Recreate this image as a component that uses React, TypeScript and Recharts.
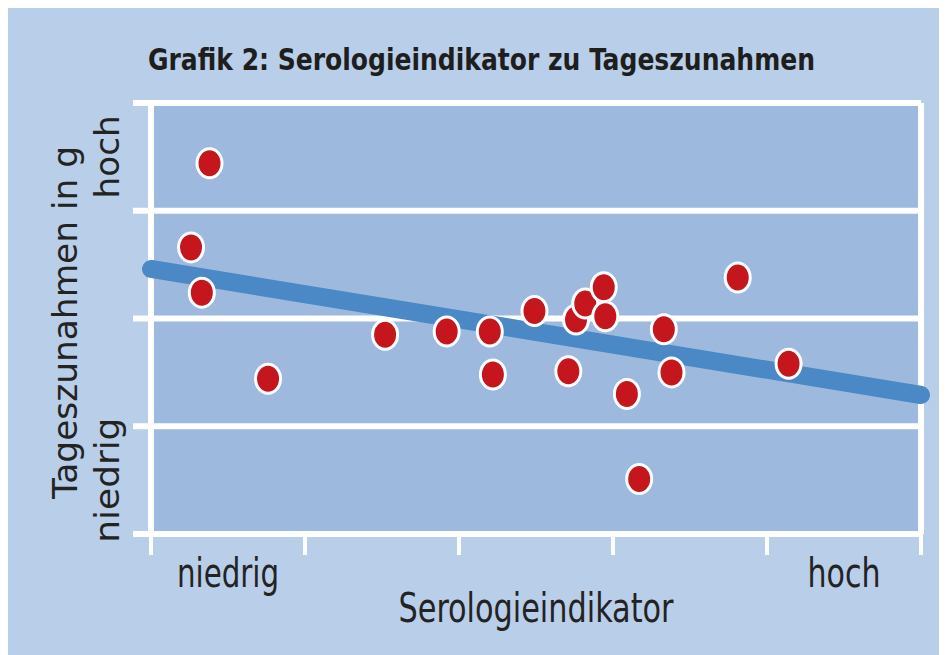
import React from 'react';
import { ScatterChart, Scatter, XAxis, YAxis, CartesianGrid, ReferenceLine, Label } from 'recharts';

// Serologieindikator (x) and Tageszunahmen (y) per animal
const serologie = [0.38, 0.26, 0.33, 0.76, 1.52, 1.92, 2.2, 2.22, 2.49, 2.76, 2.82, 2.94, 2.95, 2.71, 3.09, 3.33, 3.38, 3.81, 4.14, 3.17];
const zunahme = [3.44, 2.66, 2.24, 1.44, 1.85, 1.88, 1.88, 1.48, 2.07, 1.99, 2.14, 2.29, 2.02, 1.51, 1.3, 1.9, 1.5, 2.38, 1.58, 0.51];

// regression line end points
const trendX = [0, 5];
const trendY = [2.46, 1.29];

const xTicks = [0, 1, 2, 3, 4, 5];
const yTicks = [0, 1, 2, 3, 4];
const xTickLabels = [{ at: 0.5, text: 'niedrig' }, { at: 4.5, text: 'hoch' }];
const yTickLabels = [{ at: 0.5, text: 'niedrig' }, { at: 3.5, text: 'hoch' }];

const title = 'Grafik 2: Serologieindikator zu Tageszunahmen';
const xTitle = 'Serologieindikator';
const yTitle = 'Tageszunahmen in g';

const points = serologie.map((x, i) => ({ x, y: zunahme[i] }));
const trend = trendX.map((x, i) => ({ x, y: trendY[i] }));

const narrow = "'Liberation Sans Narrow', 'DejaVu Sans Condensed', 'Liberation Sans', sans-serif";
const wide = "'DejaVu Sans', 'Liberation Sans', sans-serif";
const textColor = '#232323';

const labelWidths: Record<string, number> = { niedrig: 102, hoch: 73 };
const yLabelWidths: Record<string, number> = { niedrig: 125, hoch: 83 };

const XTick = (props: any) => {
  const { x, y, payload } = props;
  const lbl = xTickLabels.find((l) => l.at === payload.value);
  if (lbl) {
    return (
      <text x={x} y={y + 53} textAnchor="middle" fontFamily={narrow} fontSize={40} fill={textColor}
        textLength={labelWidths[lbl.text]} lengthAdjust="spacingAndGlyphs">
        {lbl.text}
      </text>
    );
  }
  return <line x1={x} x2={x} y1={y - 3} y2={y + 21} stroke="#fff" strokeWidth={4} />;
};

const YTick = (props: any) => {
  const { x, y, payload } = props;
  const lbl = yTickLabels.find((l) => l.at === payload.value);
  if (lbl) {
    const tx = x - 32;
    return (
      <text x={tx} y={y} transform={`rotate(-90 ${tx} ${y})`} textAnchor="middle" fontFamily={wide}
        fontSize={34} fill={textColor} textLength={yLabelWidths[lbl.text]} lengthAdjust="spacingAndGlyphs">
        {lbl.text}
      </text>
    );
  }
  return <line x1={x - 18} x2={x} y1={y} y2={y} stroke="#fff" strokeWidth={6} />;
};

const Dot = (props: any) => {
  const { cx, cy } = props;
  return <ellipse cx={cx} cy={cy} rx={12.5} ry={14.5} fill="#c5161d" stroke="#fff" strokeWidth={3} />;
};

export default function App() {
  return (
    <div style={{ position: 'relative', width: 939, height: 647, background: '#b9cee8' }}>
      <svg width={939} height={95} style={{ position: 'absolute', left: 0, top: 0 }}>
        <text x={140} y={62} fontFamily={narrow} fontWeight="bold" fontSize={31} fill="#1e1e1e"
          textLength={667} lengthAdjust="spacingAndGlyphs">
          {title}
        </text>
      </svg>
      <ScatterChart width={939} height={647} margin={{ top: 95, right: 26, bottom: 0, left: 0 }}>
        <CartesianGrid
          fill="#9db9de"
          stroke="#fff"
          horizontalValues={yTicks}
          verticalValues={[xTicks[0], xTicks[xTicks.length - 1]]}
          strokeWidth={6}
        />
        <XAxis
          type="number"
          dataKey="x"
          domain={[0, 5]}
          ticks={[0, 0.5, 1, 2, 3, 4, 4.5, 5]}
          interval={0}
          height={121}
          tickSize={0}
          tickMargin={0}
          axisLine={false}
          tickLine={false}
          tick={<XTick />}
        >
          <Label
            content={(p: any) => {
              const vb = p.viewBox;
              return (
                <text x={vb.x + vb.width / 2} y={614} textAnchor="middle" fontFamily={narrow} fontSize={40}
                  fill={textColor} textLength={275} lengthAdjust="spacingAndGlyphs">
                  {xTitle}
                </text>
              );
            }}
          />
        </XAxis>
        <YAxis
          type="number"
          dataKey="y"
          domain={[0, 4]}
          ticks={[0, 0.5, 1, 2, 3, 3.5, 4]}
          interval={0}
          width={143}
          tickSize={0}
          tickMargin={0}
          axisLine={false}
          tickLine={false}
          tick={<YTick />}
        >
          <Label
            content={(p: any) => {
              const vb = p.viewBox;
              const cy = vb.y + vb.height / 2 + 4;
              return (
                <text x={69} y={cy} transform={`rotate(-90 69 ${cy})`} textAnchor="middle" fontFamily={wide}
                  fontSize={34} fill={textColor} textLength={353} lengthAdjust="spacingAndGlyphs">
                  {yTitle}
                </text>
              );
            }}
          />
        </YAxis>
        <ReferenceLine
          segment={trend}
          stroke="#4a88c6"
          strokeWidth={18}
          strokeLinecap="round"
          ifOverflow="visible"
        />
        <Scatter data={points} shape={<Dot />} isAnimationActive={false} />
      </ScatterChart>
    </div>
  );
}
